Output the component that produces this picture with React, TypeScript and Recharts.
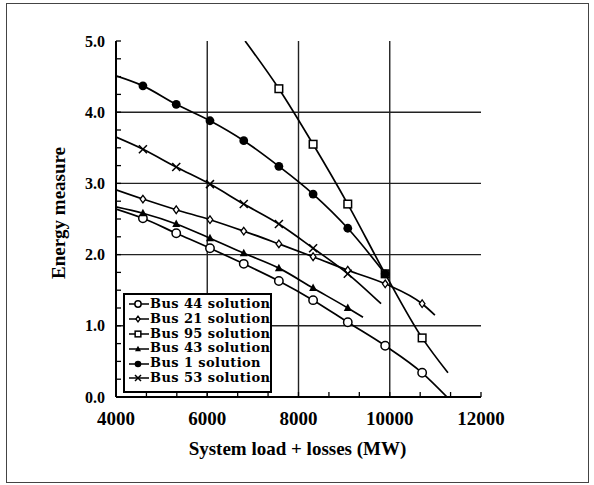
import React from "react";
import { LineChart, Line, XAxis, YAxis, ReferenceLine, Legend } from "recharts";

// load levels where the solutions were computed (MW)
const loadMW = [4590, 5320, 6060, 6800, 7570, 8320, 9080, 9900, 10710];

const bus44 = [2.51, 2.3, 2.09, 1.87, 1.63, 1.36, 1.05, 0.72, 0.34];
const bus21 = [2.78, 2.63, 2.49, 2.33, 2.15, 1.97, 1.78, 1.59, 1.31];
const bus95 = [null, null, null, null, 4.33, 3.55, 2.71, 1.73, 0.83];
const bus43 = [2.58, 2.43, 2.23, 2.02, 1.81, 1.53, 1.25, null, null];
const bus1 = [4.37, 4.11, 3.88, 3.6, 3.24, 2.85, 2.37, 1.73, null];
const bus53 = [3.48, 3.23, 2.99, 2.71, 2.43, 2.09, 1.73, null, null];

// unmarked start / end of each curve [MW, value]
const bus44Ends = [[4000, 2.64], [11255, 0.0]];
const bus21Ends = [[4000, 2.91], [10990, 1.15]];
const bus95Ends = [[6830, 5.0], [11276, 0.34]];
const bus43Ends = [[4000, 2.67], [9414, 1.12]];
const bus1Ends = [[4000, 4.51], null];
const bus53Ends = [[4000, 3.65], [9810, 1.31]];

const seriesNames = [
  "Bus 44 solution",
  "Bus 21 solution",
  "Bus 95 solution",
  "Bus 43 solution",
  "Bus 1 solution",
  "Bus 53 solution",
];
const seriesMarkers = ["circleOpen", "diamond", "square", "triangle", "circleFilled", "cross"];

const xTicks = [4000, 4667, 5333, 6000, 6667, 7333, 8000, 8667, 9333, 10000, 10667, 11333, 12000];
const xLabeled = [4000, 6000, 8000, 10000, 12000];
const yTicks = [0, 0.25, 0.5, 0.75, 1, 1.25, 1.5, 1.75, 2, 2.25, 2.5, 2.75, 3, 3.25, 3.5, 3.75, 4, 4.25, 4.5, 4.75, 5];
const yLabeled = [0, 1, 2, 3, 4, 5];
const gridX = [6000, 8000, 10000];
const gridY = [1, 2, 3, 4];

const serif = "'Liberation Serif', 'Times New Roman', serif";
const wideSerif = "'DejaVu Serif', serif";

function buildSeries(values: (number | null)[], ends: any[]) {
  const pts: { x: number; y: number; mark: boolean }[] = [];
  if (ends[0]) pts.push({ x: ends[0][0], y: ends[0][1], mark: false });
  values.forEach((v, i) => {
    if (v != null) pts.push({ x: loadMW[i], y: v, mark: true });
  });
  if (ends[1]) pts.push({ x: ends[1][0], y: ends[1][1], mark: false });
  return pts;
}

const series = [
  buildSeries(bus44, bus44Ends),
  buildSeries(bus21, bus21Ends),
  buildSeries(bus95, bus95Ends),
  buildSeries(bus43, bus43Ends),
  buildSeries(bus1, bus1Ends),
  buildSeries(bus53, bus53Ends),
];

const Marker = ({ kind, cx, cy, s = 1 }: { kind: string; cx: number; cy: number; s?: number }) => {
  const sw = 1.5;
  switch (kind) {
    case "circleOpen":
      return <circle cx={cx} cy={cy} r={4.2 * s} fill="#fff" stroke="#000" strokeWidth={sw} />;
    case "circleFilled":
      return <circle cx={cx} cy={cy} r={4.4 * s} fill="#000" />;
    case "square":
      return (
        <rect x={cx - 3.8 * s} y={cy - 3.8 * s} width={7.6 * s} height={7.6 * s} fill="#fff" stroke="#000" strokeWidth={sw} />
      );
    case "triangle":
      return (
        <polygon
          points={`${cx},${cy - 4.5 * s} ${cx + 4 * s},${cy + 3 * s} ${cx - 4 * s},${cy + 3 * s}`}
          fill="#000"
        />
      );
    case "diamond":
      return (
        <polygon
          points={`${cx},${cy - 3.8 * s} ${cx + 2.8 * s},${cy} ${cx},${cy + 3.8 * s} ${cx - 2.8 * s},${cy}`}
          fill="#fff"
          stroke="#000"
          strokeWidth={1.3}
        />
      );
    default:
      return (
        <g stroke="#000" strokeWidth={1.5}>
          <line x1={cx - 4 * s} y1={cy - 4 * s} x2={cx + 4 * s} y2={cy + 4 * s} />
          <line x1={cx - 4 * s} y1={cy + 4 * s} x2={cx + 4 * s} y2={cy - 4 * s} />
        </g>
      );
  }
};

const makeDot = (kind: string) => (p: any) => {
  if (!p.payload || !p.payload.mark) return <g key={`d-${kind}-${p.index}`} />;
  return (
    <g key={`d-${kind}-${p.index}`}>
      <Marker kind={kind} cx={p.cx} cy={p.cy} />
    </g>
  );
};

const BottomTick = (p: any) => {
  const { x, y, payload } = p;
  return (
    <g>
      <line x1={x} y1={y} x2={x} y2={y - 5} stroke="#000" strokeWidth={1.3} />
      {xLabeled.includes(payload.value) && (
        <text x={x} y={y + 28} textAnchor="middle" fontFamily={serif} fontWeight="bold" fontSize={19} fill="#000">
          {payload.value}
        </text>
      )}
    </g>
  );
};

const TopTick = (p: any) => (
  <line x1={p.x} y1={p.y} x2={p.x} y2={p.y + 5} stroke="#000" strokeWidth={1.3} />
);

const LeftTick = (p: any) => {
  const { x, y, payload } = p;
  return (
    <g>
      <line x1={x} y1={y} x2={x + 5} y2={y} stroke="#000" strokeWidth={1.3} />
      {yLabeled.includes(payload.value) && (
        <text x={x - 11} y={y + 5.5} textAnchor="end" fontFamily={serif} fontWeight="bold" fontSize={16} fill="#000">
          {payload.value.toFixed(1)}
        </text>
      )}
    </g>
  );
};

const RightTick = (p: any) => (
  <line x1={p.x} y1={p.y} x2={p.x - 5} y2={p.y} stroke="#000" strokeWidth={1.3} />
);

const LegendBox = () => (
  <div
    style={{
      border: "2px solid #000",
      background: "#fff",
      width: 145,
      height: 94,
      paddingTop: 2,
      boxSizing: "content-box",
      fontFamily: wideSerif,
      fontWeight: "bold",
      fontSize: 13,
      color: "#000",
      lineHeight: "14.8px",
    }}
  >
    {seriesNames.map((name, i) => (
      <div key={name} style={{ display: "flex", alignItems: "center", height: 14.8, whiteSpace: "nowrap" }}>
        <svg width={25} height={14} style={{ flex: "none" }}>
          <line x1={4} y1={7} x2={24} y2={7} stroke="#000" strokeWidth={1.5} />
          <Marker kind={seriesMarkers[i]} cx={13} cy={7} s={0.75} />
        </svg>
        <span style={{ letterSpacing: 0.4 }}>{name}</span>
      </div>
    ))}
  </div>
);

export default function App() {
  return (
    <div style={{ position: "absolute", left: 0, top: 0, width: 594, height: 485, background: "#fff" }}>
      <div
        style={{
          position: "absolute",
          left: 6,
          top: 3,
          width: 583,
          height: 480,
          border: "1px solid #444",
          boxSizing: "border-box",
        }}
      />
      <LineChart width={594} height={485} margin={{ top: 41, right: 113, bottom: 0, left: 0 }}>
        <XAxis
          dataKey="x"
          type="number"
          domain={[4000, 12000]}
          ticks={xTicks}
          interval={0}
          allowDataOverflow
          height={88}
          tickSize={0}
          tickMargin={0}
          tickLine={false}
          axisLine={{ stroke: "#000", strokeWidth: 2 }}
          tick={<BottomTick />}
          label={{
            content: (props: any) => {
              const vb = props.viewBox;
              return (
                <text
                  x={vb.x + vb.width / 2 - 1}
                  y={vb.y + 58}
                  textAnchor="middle"
                  fontFamily={serif}
                  fontWeight="bold"
                  fontSize={19}
                  fill="#000"
                >
                  System load + losses (MW)
                </text>
              );
            },
          }}
        />
        <XAxis
          xAxisId="top"
          orientation="top"
          dataKey="x"
          type="number"
          domain={[4000, 12000]}
          ticks={xTicks}
          interval={0}
          height={0}
          tickSize={0}
          tickMargin={0}
          tickLine={false}
          axisLine={{ stroke: "#000", strokeWidth: 2 }}
          tick={<TopTick />}
        />
        <YAxis
          type="number"
          domain={[0, 5]}
          ticks={yTicks}
          interval={0}
          allowDataOverflow
          width={116}
          tickSize={0}
          tickMargin={0}
          tickLine={false}
          axisLine={{ stroke: "#000", strokeWidth: 2 }}
          tick={<LeftTick />}
          label={{
            content: (props: any) => {
              const vb = props.viewBox;
              const cy = vb.y + vb.height / 2 - 6;
              return (
                <text
                  x={65}
                  y={cy}
                  transform={`rotate(-90, 65, ${cy})`}
                  textAnchor="middle"
                  fontFamily={serif}
                  fontWeight="bold"
                  fontSize={19}
                  fill="#000"
                >
                  Energy measure
                </text>
              );
            },
          }}
        />
        <YAxis
          yAxisId="right"
          orientation="right"
          type="number"
          domain={[0, 5]}
          ticks={yTicks}
          interval={0}
          width={0}
          tickSize={0}
          tickMargin={0}
          tickLine={false}
          axisLine={{ stroke: "#000", strokeWidth: 2 }}
          tick={<RightTick />}
        />
        {gridX.map((v) => (
          <ReferenceLine key={`gx-${v}`} x={v} stroke="#222" strokeWidth={1.4} />
        ))}
        {gridY.map((v) => (
          <ReferenceLine key={`gy-${v}`} y={v} stroke="#222" strokeWidth={1.4} />
        ))}
        {series.map((data, i) => (
          <Line
            key={seriesNames[i]}
            data={data}
            dataKey="y"
            name={seriesNames[i]}
            type="monotone"
            stroke="#000"
            strokeWidth={1.7}
            dot={makeDot(seriesMarkers[i])}
            activeDot={false}
            isAnimationActive={false}
          />
        ))}
        <Legend
          layout="vertical"
          align="center"
          verticalAlign="middle"
          wrapperStyle={{ left: 123, top: 293, width: 149, height: 98 }}
          content={<LegendBox />}
        />
      </LineChart>
    </div>
  );
}
